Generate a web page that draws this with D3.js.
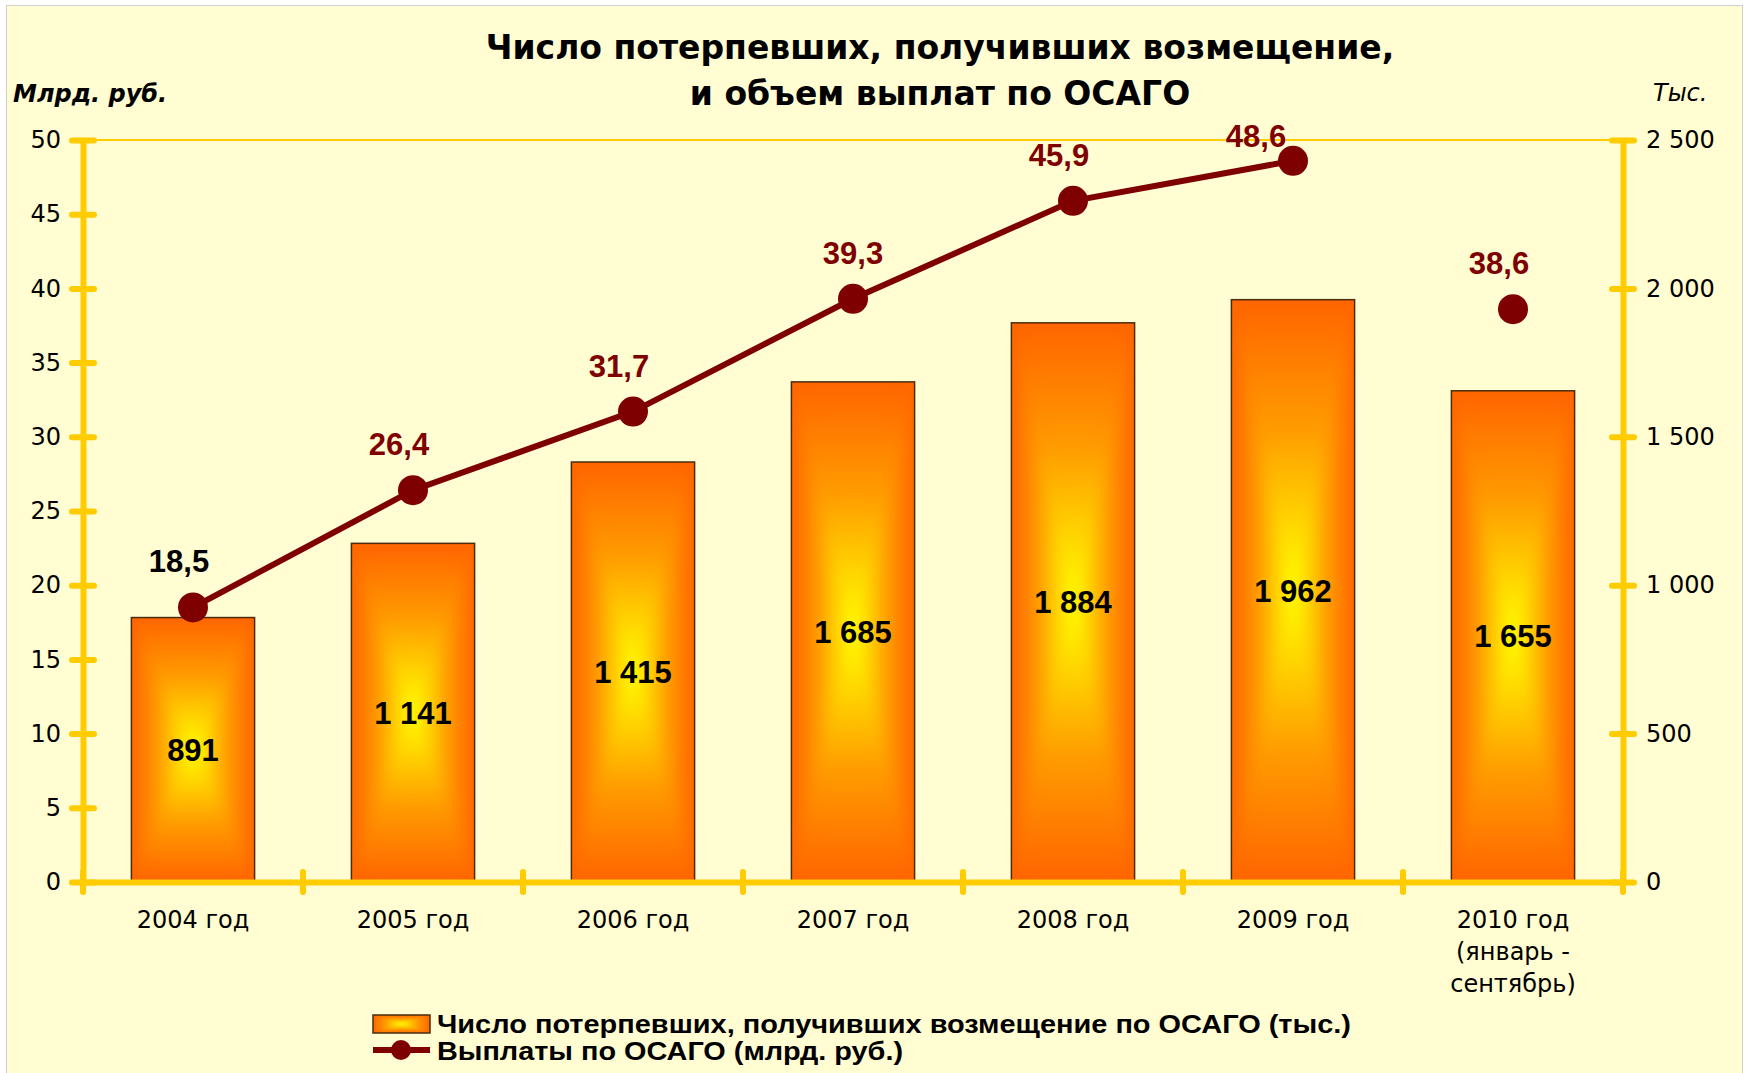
<!DOCTYPE html>
<html lang="ru">
<head>
<meta charset="utf-8">
<script src="https://cdn.jsdelivr.net/npm/d3@7"></script>
<style>
  html, body { margin: 0; padding: 0; background: #ffffff; }
  svg { display: block; }
</style>
</head>
<body>
<svg id="chart" width="1748" height="1073"></svg>
<script>
// ---- data ----
const categories = ["2004 год", "2005 год", "2006 год", "2007 год", "2008 год", "2009 год", "2010 год\n(январь -\nсентябрь)"];
const victims = [891, 1141, 1415, 1685, 1884, 1962, 1655];          // тыс. человек
const payouts = [18.5, 26.4, 31.7, 39.3, 45.9, 48.6, 38.6];         // млрд. руб.
const fullYear = [true, true, true, true, true, true, false];       // 2010 — неполный год, без соединительной линии
const leftTicks = [0, 5, 10, 15, 20, 25, 30, 35, 40, 45, 50];
const rightTicks = [0, 500, 1000, 1500, 2000, 2500];
const titleLines = ["Число потерпевших, получивших возмещение,", "и объем выплат по ОСАГО"];
const leftUnit = "Млрд. руб.";
const rightUnit = "Тыс.";
const legendLabels = ["Число потерпевших, получивших возмещение по ОСАГО (тыс.)", "Выплаты по ОСАГО (млрд. руб.)"];

// ---- layout & style ----
const W = 1748, H = 1073;
const plot = { left: 83, right: 1623, top: 140, bottom: 882 };
const axisColor = "#FFCC00";
const lineColor = "#7F0000";
const panelFill = "#FFFDD1";
const edgeOrange = "#FF6400";
const regular = "'DejaVu Sans', Verdana, sans-serif";
const boldArial = "'Liberation Sans', Arial, sans-serif";

const ru = d3.formatLocale({ decimal: ",", thousands: "\u00a0", grouping: [3], currency: ["", ""] });
const fmtInt = ru.format(",d");
const fmtDec = ru.format(".1f");

const svg = d3.select("#chart");

// panel
svg.append("rect")
  .attr("x", 6.5).attr("y", 5.5)
  .attr("width", W - 12).attr("height", H + 10)
  .attr("fill", panelFill)
  .attr("stroke", "#cfcfcf").attr("stroke-width", 1);

// gradients: rectangular "from centre" fill built from four triangles, softened by a blur
const defs = svg.append("defs");
const stops = [[0, edgeOrange], [0.45, "#FF9C00"], [0.8, "#FFDC00"], [1, "#FFFF00"]];
function gradOrdered(id, x2, y2, reverse) {
  const g = defs.append("linearGradient").attr("id", id)
    .attr("x1", 0).attr("y1", 0).attr("x2", x2).attr("y2", y2);
  const s = reverse ? stops.map(([o, c]) => [1 - o, c]).reverse() : stops;
  s.forEach(([o, c]) => g.append("stop").attr("offset", o).attr("stop-color", c));
}
gradOrdered("gTop", 0, 1, false);
gradOrdered("gBottom", 0, 1, true);
gradOrdered("gLeft", 1, 0, false);
gradOrdered("gRight", 1, 0, true);
defs.append("filter").attr("id", "soft")
  .attr("x", "-10%").attr("y", "-10%").attr("width", "120%").attr("height", "120%")
  .append("feGaussianBlur").attr("stdDeviation", 7);
defs.append("filter").attr("id", "softSmall")
  .attr("x", "-10%").attr("y", "-10%").attr("width", "120%").attr("height", "120%")
  .append("feGaussianBlur").attr("stdDeviation", 1.5);

let clipCount = 0;
function gradientBox(sel, x0, y0, w, h, filterId) {
  const cx = x0 + w / 2, cy = y0 + h / 2, x1 = x0 + w, y1 = y0 + h;
  const id = "clip" + (clipCount++);
  defs.append("clipPath").attr("id", id)
    .append("rect").attr("x", x0).attr("y", y0).attr("width", w).attr("height", h);
  const inner = sel.append("g").attr("clip-path", `url(#${id})`);
  inner.append("rect").attr("x", x0).attr("y", y0).attr("width", w).attr("height", h).attr("fill", edgeOrange);
  const tg = inner.append("g").attr("filter", `url(#${filterId})`);
  const tri = [
    [[x0, y0], [x1, y0], [cx, cy], "gTop"],
    [[x0, y1], [x1, y1], [cx, cy], "gBottom"],
    [[x0, y0], [x0, y1], [cx, cy], "gLeft"],
    [[x1, y0], [x1, y1], [cx, cy], "gRight"]
  ];
  tri.forEach(t => tg.append("polygon")
    .attr("points", t.slice(0, 3).map(p => p.join(",")).join(" "))
    .attr("fill", `url(#${t[3]})`)
    .attr("stroke", `url(#${t[3]})`).attr("stroke-width", 1));
  sel.append("rect").attr("x", x0).attr("y", y0).attr("width", w).attr("height", h)
    .attr("fill", "none").attr("stroke", "#4a2c10").attr("stroke-width", 1.5);
}

// scales
const x = d3.scaleBand().domain(categories).range([plot.left, plot.right]).padding(0);
const yL = d3.scaleLinear().domain([0, 50]).range([plot.bottom, plot.top]);
const yR = d3.scaleLinear().domain([0, 2500]).range([plot.bottom, plot.top]);
const barW = x.bandwidth() * 0.56;
const cxOf = c => x(c) + x.bandwidth() / 2;

// title
svg.append("text")
  .attr("x", 940).attr("y", 59)
  .attr("text-anchor", "middle")
  .attr("font-family", regular).attr("font-weight", "bold").attr("font-size", 33)
  .selectAll("tspan").data(titleLines).join("tspan")
  .attr("x", 940).attr("dy", (d, i) => i === 0 ? 0 : 46)
  .text(d => d);

// unit captions
svg.append("text").attr("x", 13).attr("y", 102)
  .attr("font-family", regular).attr("font-weight", "bold").attr("font-style", "italic")
  .attr("font-size", 24).text(leftUnit);
svg.append("text").attr("x", 1653).attr("y", 101)
  .attr("font-family", regular).attr("font-style", "italic")
  .attr("font-size", 24).text(rightUnit);

// top boundary gridline
svg.append("line")
  .attr("x1", plot.left).attr("x2", plot.right)
  .attr("y1", yL(50)).attr("y2", yL(50))
  .attr("stroke", axisColor).attr("stroke-width", 2);

// bars
const bars = svg.append("g");
categories.forEach((c, i) => {
  const x0 = cxOf(c) - barW / 2;
  const y0 = yR(victims[i]);
  gradientBox(bars.append("g"), x0, y0, barW, yR(0) - y0, "soft");
});

// axes
function styleAxis(g) {
  g.select(".domain").attr("stroke", axisColor).attr("stroke-width", 6);
  g.selectAll(".tick line").remove();
  g.selectAll(".tick").append("line")
    .attr("x1", -11).attr("x2", 11)
    .attr("stroke", axisColor).attr("stroke-width", 6).attr("stroke-linecap", "round");
  g.selectAll(".tick text")
    .attr("font-family", regular).attr("font-size", 24).attr("fill", "#000");
}

const gLeft = svg.append("g").attr("transform", `translate(${plot.left},0)`)
  .call(d3.axisLeft(yL).tickValues(leftTicks).tickSize(0).tickPadding(22).tickSizeOuter(0));
styleAxis(gLeft);

const gRight = svg.append("g").attr("transform", `translate(${plot.right},0)`)
  .call(d3.axisRight(yR).tickValues(rightTicks).tickSize(0).tickPadding(23).tickSizeOuter(0)
    .tickFormat(fmtInt));
styleAxis(gRight);

const gBottom = svg.append("g").attr("transform", `translate(0,${plot.bottom})`)
  .call(d3.axisBottom(x).tickSize(0).tickSizeOuter(0));
gBottom.select(".domain").attr("stroke", axisColor).attr("stroke-width", 6);
gBottom.selectAll(".tick text").each(function (d) {
  const t = d3.select(this).text("").attr("y", 46).attr("dy", null)
    .attr("font-family", regular).attr("font-size", 24).attr("fill", "#000");
  d.split("\n").forEach((line, k) => {
    t.append("tspan").attr("x", 0).attr("dy", k === 0 ? 0 : 32).text(line);
  });
});
// category boundary ticks
const edges = categories.map(c => x(c)).concat([x.range()[1]]);
gBottom.selectAll(".edge").data(edges).join("line").attr("class", "edge")
  .attr("x1", d => d).attr("x2", d => d).attr("y1", -10).attr("y2", 10)
  .attr("stroke", axisColor).attr("stroke-width", 6).attr("stroke-linecap", "round");

// bar value labels
svg.append("g").selectAll("text").data(categories).join("text")
  .attr("x", c => cxOf(c))
  .attr("y", (c, i) => (yR(victims[i]) + yR(0)) / 2 + 11)
  .attr("text-anchor", "middle")
  .attr("font-family", boldArial).attr("font-weight", "bold").attr("font-size", 31)
  .attr("fill", "#000")
  .text((c, i) => fmtInt(victims[i]));

// payouts line + markers
const line = d3.line()
  .defined((d, i) => fullYear[i])
  .x((d, i) => cxOf(categories[i]))
  .y(d => yL(d));
svg.append("path").datum(payouts)
  .attr("d", line)
  .attr("fill", "none").attr("stroke", lineColor).attr("stroke-width", 6);
svg.append("g").selectAll("circle").data(payouts).join("circle")
  .attr("cx", (d, i) => cxOf(categories[i]))
  .attr("cy", d => yL(d))
  .attr("r", 15)
  .attr("fill", lineColor);

// payout labels (nudged where they would collide with the line or the frame)
const nudge = i => i === 3 ? [0, -35] : i === 5 ? [-37, -14] : [-14, -35];
svg.append("g").selectAll("text").data(payouts).join("text")
  .attr("x", (d, i) => cxOf(categories[i]) + nudge(i)[0])
  .attr("y", (d, i) => yL(d) + nudge(i)[1])
  .attr("text-anchor", "middle")
  .attr("font-family", boldArial).attr("font-weight", "bold").attr("font-size", 31)
  .attr("fill", (d, i) => i === 0 ? "#000" : "#7F0000")
  .text(d => fmtDec(d));

// legend
const lg = svg.append("g");
gradientBox(lg.append("g"), 373, 1015, 57, 18, "softSmall");
lg.append("line").attr("x1", 373).attr("x2", 430).attr("y1", 1050).attr("y2", 1050)
  .attr("stroke", lineColor).attr("stroke-width", 6);
lg.append("circle").attr("cx", 401).attr("cy", 1050).attr("r", 10).attr("fill", lineColor);
lg.selectAll("text").data(legendLabels).join("text")
  .attr("x", 437).attr("y", (d, i) => i === 0 ? 1033 : 1060)
  .attr("font-family", boldArial).attr("font-weight", "bold").attr("font-size", 25)
  .attr("textLength", (d, i) => i === 0 ? 914 : 466)
  .attr("lengthAdjust", "spacingAndGlyphs")
  .text(d => d);
</script>
</body>
</html>
